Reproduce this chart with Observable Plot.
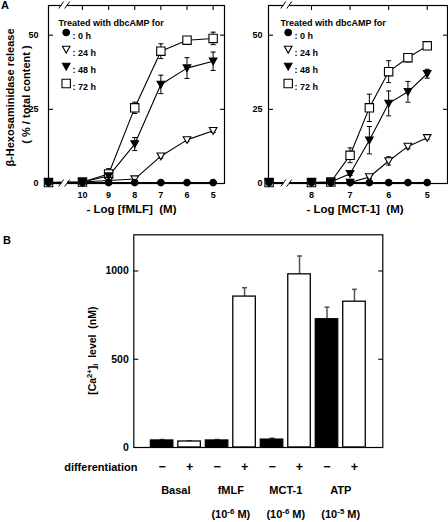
<!DOCTYPE html>
<html><head><meta charset="utf-8">
<script src="https://cdn.jsdelivr.net/npm/d3@7"></script>
<script src="https://cdn.jsdelivr.net/npm/@observablehq/plot@0.6"></script>
<style>
body{margin:0;background:#fff;}
#root{position:relative;width:448px;height:522px;overflow:hidden;background:#fff;font-family:"Liberation Sans",Arial,sans-serif;font-weight:bold;color:#000;}
#root > *{position:absolute;}
.letter{font-size:11px;line-height:11px;}
</style></head><body><div id="root"></div>
<script>
// ---------- data ----------
const seriesNames = ["0 h", "24 h", "48 h", "72 h"];
const legendTitle = "Treated with dbcAMP for";
const yTicksA = [0, 25, 50];

// Panel A left: -log[fMLF]; first x = untreated control at the left edge
const fmlfX = [11.3, 10, 9, 8, 7, 6, 5];
const fmlfTicks = [10, 9, 8, 7, 6, 5];
const fmlf0h  = [0.3, 0.3, 0.3, 0.3, 0.3, 0.3, 0.3];
const fmlf24h = [0.3, 0.5, 1.0, 1.5, 9.2, 14.7, 17.8];
const fmlf48h = [0.3, 0.5, 2.5, 13.3, 33.4, 38.9, 41.2];
const fmlf72h = [0.3, 0.5, 3.2, 25.5, 44.6, 48.3, 48.9];
const fmlfErr0h  = [0, 0, 0, 0, 0, 0, 0];
const fmlfErr24h = [0, 0, 0, 0, 0.6, 0.6, 0.6];
const fmlfErr48h = [0, 0, 1.5, 2.2, 3.1, 3.5, 3.1];
const fmlfErr72h = [0, 0, 1.8, 1.9, 2.5, 0.6, 2.1];
const fmlfLabel = "- Log [fMLF]\u00A0\u00A0(M)";

// Panel A right: -log[MCT-1]
const mctX = [9.1, 8, 7.5, 7, 6.5, 6, 5.5, 5];
const mctTicks = [8, 7, 6, 5];
const mct0h  = [0.3, 0.3, 0.3, 0.3, 0.3, 0.3, 0.3, 0.3];
const mct24h = [0.3, 0.3, 0.3, 0.3, 2.2, 7.6, 12.5, 15.4];
const mct48h = [0.3, 0.3, 0.5, 3.3, 14.6, 27.0, 30.9, 37.0];
const mct72h = [0.3, 0.3, 0.5, 9.5, 25.5, 37.7, 42.4, 46.4];
const mctErr0h  = [0, 0, 0, 0, 0, 0, 0, 0];
const mctErr24h = [0, 0, 0, 0, 0.5, 1.4, 0.8, 0.6];
const mctErr48h = [0, 0, 0, 0.6, 4.6, 4.2, 3.5, 1.5];
const mctErr72h = [0, 0, 0, 2.5, 4.6, 3.7, 1.4, 0.6];
const mctLabel = "- Log [MCT-1]\u00A0\u00A0(M)";

// Panel B: [Ca2+]i
const groups = ["Basal", "fMLF", "MCT-1", "ATP"];
const concLabels = ["", "(10\u207B\u2076 M)", "(10\u207B\u2076 M)", "(10\u207B\u2075 M)"];
const caMinus = [40, 40, 45, 727];
const caPlus  = [34, 855, 981, 826];
const caErrMinus = [5, 5, 8, 68];
const caErrPlus  = [4, 50, 104, 70];
const diffSigns = ["\u2212", "+"];
const caTicks = [0, 500, 1000];
const caLabel = "[Ca\u00B2\u207A]\u1D62\u00A0\u00A0level\u00A0\u00A0(nM)";

// ---------- symbols ----------
const symSquare = {draw(c){ c.moveTo(-4.2,-4.2); c.lineTo(4.2,-4.2); c.lineTo(4.2,4.2); c.lineTo(-4.2,4.2); c.closePath(); }};
const symTriDown = {draw(c){ c.moveTo(-3.8,-3.2); c.lineTo(3.8,-3.2); c.lineTo(0,3.6); c.closePath(); }};
const symCircle = {draw(c){ c.moveTo(3.3,0); c.arc(0,0,3.3,0,2*Math.PI); c.closePath(); }};
const capSym = {draw(c){ c.moveTo(-2.5,0); c.lineTo(2.5,0); }};
const tickR = {draw(c){ c.moveTo(0,0); c.lineTo(4.5,0); }};
const tickL = {draw(c){ c.moveTo(0,0); c.lineTo(-4.5,0); }};
const tickD = {draw(c){ c.moveTo(0,0); c.lineTo(0,4.5); }};
const markerStyle = {
  "0 h":  {symbol: symCircle, fill: "black"},
  "24 h": {symbol: symTriDown, fill: "white"},
  "48 h": {symbol: symTriDown, fill: "black"},
  "72 h": {symbol: symSquare, fill: "white"}
};
const drawOrder = ["72 h", "24 h", "48 h", "0 h"];
const FONT = "'Liberation Sans', Arial, sans-serif";
const baseStyle = {fontFamily: FONT, fontWeight: "bold", fontSize: "9px", background: "none", color: "black", overflow: "visible"};

// render unicode super/subscripts as tspans
const SUP = {"\u2070":"0","\u00B9":"1","\u00B2":"2","\u00B3":"3","\u2074":"4","\u2075":"5","\u2076":"6","\u2077":"7","\u2078":"8","\u2079":"9","\u207A":"+","\u207B":"-"};
const SUB = {"\u1D62":"i"};
function fixScripts(svg) {
  d3.select(svg).selectAll("text").each(function() {
    const el = this;
    if (el.querySelector("tspan")) return;
    const s = el.textContent;
    if (![...s].some(ch => SUP[ch] || SUB[ch])) return;
    const runs = [];
    for (const ch of s) {
      const type = SUP[ch] ? "sup" : SUB[ch] ? "sub" : "n";
      const c = SUP[ch] || SUB[ch] || ch;
      if (runs.length && runs[runs.length - 1].type === type) runs[runs.length - 1].t += c;
      else runs.push({type, t: c});
    }
    el.textContent = "";
    const sel = d3.select(el);
    runs.forEach(r => {
      const ts = sel.append("tspan").text(r.t);
      if (r.type === "sup") ts.attr("baseline-shift", "45%").attr("font-size", "0.72em");
      if (r.type === "sub") ts.attr("baseline-shift", "-25%").attr("font-size", "0.72em");
    });
  });
}

function addBreak(svg, plot, bx, ys) {
  const X = plot.scale("x").apply(bx);
  const g = d3.select(svg).append("g");
  ys.forEach(y => {
    g.append("rect").attr("x", X - 3).attr("y", y - 4).attr("width", 6).attr("height", 8).attr("fill", "white");
    [-3, 3].forEach(o => {
      g.append("line").attr("x1", X + o - 2.5).attr("y1", y + 3.5).attr("x2", X + o + 2.5).attr("y2", y - 3.5)
        .attr("stroke", "black").attr("stroke-width", 1);
    });
  });
}

function panelA(cfg) {
  const rows = [];
  seriesNames.forEach((s, i) => cfg.xs.forEach((x, j) => rows.push({s, x, v: cfg.vals[i][j], e: cfg.errs[i][j]})));
  const errRows = rows.filter(d => d.e > 0);
  const caps = errRows.flatMap(d => [{x: d.x, y: d.v - d.e}, {x: d.x, y: d.v + d.e}]);
  const marks = [
    Plot.frame({stroke: "black", strokeWidth: 1.2}),
    Plot.axisY({ticks: yTicksA, tickSize: 0, tickPadding: cfg.padY, fontSize: 9, label: null, tickFormat: d => String(d)}),
    Plot.axisX({ticks: cfg.ticks, tickSize: 0, tickPadding: 8, fontSize: 9, label: null, tickFormat: d => String(d)}),
    Plot.dot(yTicksA.slice(1), {y: d => d, frameAnchor: "left", symbol: tickR, stroke: "black", fill: "none", strokeWidth: 1.1}),
    Plot.dot(yTicksA.slice(1), {y: d => d, frameAnchor: "right", symbol: tickL, stroke: "black", fill: "none", strokeWidth: 1.1}),
    Plot.dot(cfg.ticks, {x: d => d, frameAnchor: "top", symbol: tickD, stroke: "black", fill: "none", strokeWidth: 1.1}),
    Plot.line(rows, {x: "x", y: "v", z: "s", stroke: "black", strokeWidth: 1.1}),
    Plot.ruleX(errRows, {x: "x", y1: d => d.v - d.e, y2: d => d.v + d.e, stroke: "black", strokeWidth: 1}),
    Plot.dot(caps, {x: "x", y: "y", symbol: capSym, stroke: "black", fill: "none", strokeWidth: 1}),
    ...drawOrder.map(s => Plot.dot(rows.filter(d => d.s === s), {x: "x", y: "v", symbol: markerStyle[s].symbol, fill: markerStyle[s].fill, stroke: "black", strokeWidth: 1.1})),
    Plot.text([legendTitle], {text: d => d, frameAnchor: "top-left", dx: cfg.legDx, dy: 14, textAnchor: "start", fontSize: 9}),
    ...seriesNames.flatMap((s, i) => [
      Plot.dot([s], {frameAnchor: "top-left", dx: cfg.legDx + 7.7, dy: 27 + 17 * i, symbol: markerStyle[s].symbol, fill: markerStyle[s].fill, stroke: "black", strokeWidth: 1.1}),
      Plot.text([": " + s], {text: d => d, frameAnchor: "top-left", dx: cfg.legDx + 14, dy: 27 + 17 * i, textAnchor: "start", fontSize: 9})
    ]),
    Plot.text([cfg.xLabel], {text: d => d, frameAnchor: "bottom", dx: cfg.titleDx, dy: 29, fontSize: 11.5})
  ];
  if (cfg.yTitle) {
    marks.push(Plot.text([cfg.yTitle[0]], {text: d => d, frameAnchor: "left", textAnchor: "middle", rotate: -90, dx: -38, dy: 3, fontSize: 11}));
    marks.push(Plot.text([cfg.yTitle[1]], {text: d => d, frameAnchor: "left", textAnchor: "middle", rotate: -90, dx: -22, dy: 0, fontSize: 11}));
  }
  const p = Plot.plot({
    width: cfg.width, height: 225,
    marginLeft: cfg.ml, marginRight: cfg.mr, marginTop: 5, marginBottom: 42,
    x: {domain: cfg.domain},
    y: {domain: [0, 60]},
    style: baseStyle,
    marks
  });
  addBreak(p, p, cfg.brk, [5, 225 - 42]);
  return p;
}

const root = document.getElementById("root");

const pL = panelA({
  xs: fmlfX, ticks: fmlfTicks,
  vals: [fmlf0h, fmlf24h, fmlf48h, fmlf72h],
  errs: [fmlfErr0h, fmlfErr24h, fmlfErr48h, fmlfErr72h],
  domain: [11.3, 4.565], brk: 10.68,
  width: 230, ml: 48, mr: 6, padY: 10, legDx: 10, titleDx: -5,
  xLabel: fmlfLabel, yTitle: ["\u03B2-Hexosaminidase release", "( % / total content )"]
});
pL.style.left = "0px"; pL.style.top = "0px";
root.appendChild(pL);

const pR = panelA({
  xs: mctX, ticks: mctTicks,
  vals: [mct0h, mct24h, mct48h, mct72h],
  errs: [mctErr0h, mctErr24h, mctErr48h, mctErr72h],
  domain: [9.115, 4.474], brk: 8.64,
  width: 218, ml: 38, mr: 1, padY: 6, legDx: 12, titleDx: -3,
  xLabel: mctLabel
});
pR.style.left = "230px"; pR.style.top = "0px";
root.appendChild(pR);

// Panel B
const bars = [];
groups.forEach((g, gi) => [0, 1].forEach(k => bars.push({g, k, idx: gi * 2 + k,
  v: k ? caPlus[gi] : caMinus[gi], e: k ? caErrPlus[gi] : caErrMinus[gi]})));
const pB = Plot.plot({
  width: 448, height: 297,
  marginTop: 9.3, marginBottom: 75, marginLeft: 133.3, marginRight: 65.7,
  x: {domain: [-1.03, 8.03], axis: null},
  y: {domain: [0, 1205], axis: null},
  style: baseStyle,
  marks: [
    Plot.ruleX(bars, {x: "idx", y1: "v", y2: d => d.v + d.e, stroke: "#555", strokeWidth: 1.5}),
    Plot.dot(bars, {x: "idx", y: d => d.v + d.e, symbol: capSym, stroke: "#555", fill: "none", strokeWidth: 1.5}),
    Plot.rect(bars.filter(d => d.k === 0), {x1: d => d.idx - 0.41, x2: d => d.idx + 0.41, y1: d => 0, y2: "v", fill: "black", stroke: "black", strokeWidth: 1.2}),
    Plot.rect(bars.filter(d => d.k === 1), {x1: d => d.idx - 0.41, x2: d => d.idx + 0.41, y1: d => 0, y2: "v", fill: "white", stroke: "black", strokeWidth: 1.3}),
    Plot.frame({stroke: "black", strokeWidth: 1.2}),
    Plot.axisY({ticks: caTicks, tickSize: 0, tickPadding: 5, fontSize: 10.5, label: null, tickFormat: d => String(d)}),
    Plot.dot(caTicks.slice(1), {y: d => d, frameAnchor: "left", symbol: tickR, stroke: "black", fill: "none", strokeWidth: 1.1}),
    Plot.dot(caTicks.slice(1), {y: d => d, frameAnchor: "right", symbol: tickL, stroke: "black", fill: "none", strokeWidth: 1.1}),
    Plot.text([caLabel], {text: d => d, frameAnchor: "left", textAnchor: "middle", rotate: -90, dx: -41.6, dy: 9.5, fontSize: 10.5}),
    Plot.text(["differentiation"], {text: d => d, frameAnchor: "bottom-left", dx: 3.7, dy: 23, textAnchor: "end", fontSize: 11}),
    Plot.text(bars, {x: "idx", text: d => diffSigns[d.k], frameAnchor: "bottom", dy: 23, fontSize: 12.5}),
    Plot.text(groups, {x: (d, i) => 2 * i + 0.5, text: d => d, frameAnchor: "bottom", dy: 46, fontSize: 11}),
    Plot.text(concLabels, {x: (d, i) => 2 * i + 0.5, text: d => d, frameAnchor: "bottom", dy: 70, fontSize: 11})
  ]
});
pB.style.left = "0px"; pB.style.top = "225px";
root.appendChild(pB);
fixScripts(pB);

const lA = document.createElement("div"); lA.className = "letter"; lA.textContent = "A";
lA.style.left = "1px"; lA.style.top = "-0.5px"; root.appendChild(lA);
const lB = document.createElement("div"); lB.className = "letter"; lB.textContent = "B";
lB.style.left = "3px"; lB.style.top = "234.5px"; root.appendChild(lB);
</script>
</body></html>
